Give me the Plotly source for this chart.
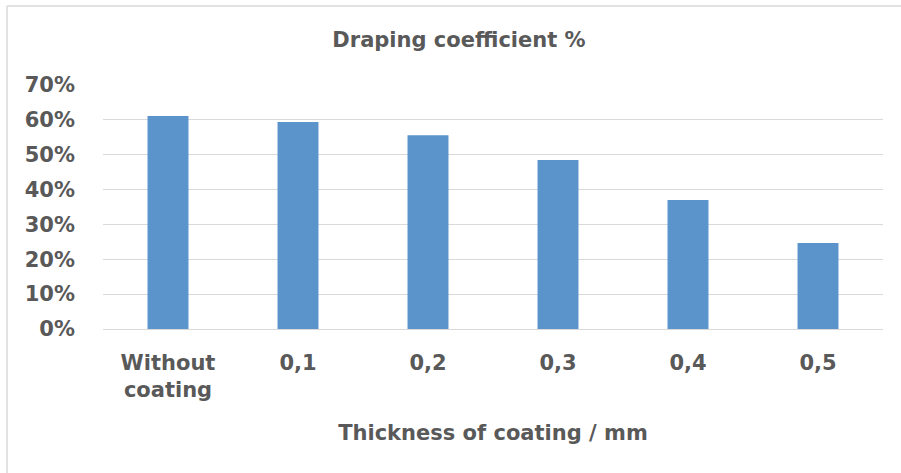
import plotly.graph_objects as go

categories = ["Without<br>coating", "0,1", "0,2", "0,3", "0,4", "0,5"]
values = [0.611, 0.594, 0.556, 0.485, 0.370, 0.247]
y_ticks = [0, 0.1, 0.2, 0.3, 0.4, 0.5, 0.6, 0.7]

TXT = "#595959"
GRID = "#d9d9d9"
FONT = "DejaVu Sans"

W, H = 901, 473
L, R, T, B = 103, 18, 85, 144
pw, ph = W - L - R, H - T - B

fig = go.Figure(go.Bar(x=categories, y=values, marker_color="#5B94CA",
                       marker_line_width=0, hoverinfo="skip"))

fig.update_layout(
    width=W, height=H,
    margin=dict(l=L, r=R, t=T, b=B, pad=0),
    paper_bgcolor="white", plot_bgcolor="white",
    bargap=0.685,
    showlegend=False,
    font=dict(family=FONT, size=21, color=TXT, weight=700),
    title=dict(text="Draping coefficient %", x=459 / W, xref="container", xanchor="center",
               y=1 - 40 / H, yref="container", yanchor="middle",
               font=dict(family=FONT, size=21, color=TXT, weight=700)),
    xaxis=dict(showgrid=False, showline=False, ticks="", zeroline=False,
               ticklabelstandoff=19,
               tickfont=dict(family=FONT, size=21, color=TXT, weight=700),
               title=dict(text="Thickness of coating / mm", standoff=24,
                          font=dict(family=FONT, size=21, color=TXT, weight=700))),
    yaxis=dict(range=[0, 0.7], tickvals=y_ticks, tickformat=".0%",
               showgrid=True, gridcolor=GRID, gridwidth=1,
               zeroline=True, zerolinecolor=GRID, zerolinewidth=1,
               showline=False, ticks="", ticklabelstandoff=27,
               tickfont=dict(family=FONT, size=21, color=TXT, weight=700)),
)

# chart border (top and left edges visible in the reference)
x0 = (7 - L) / pw
y0 = (H - B - 6) / ph
fig.add_shape(type="line", xref="paper", yref="paper", x0=x0, x1=1.1, y0=y0, y1=y0,
              line=dict(color=GRID, width=1.5))
fig.add_shape(type="line", xref="paper", yref="paper", x0=x0, x1=x0, y0=y0, y1=-0.7,
              line=dict(color=GRID, width=1.5))

fig.write_html("out.html")
